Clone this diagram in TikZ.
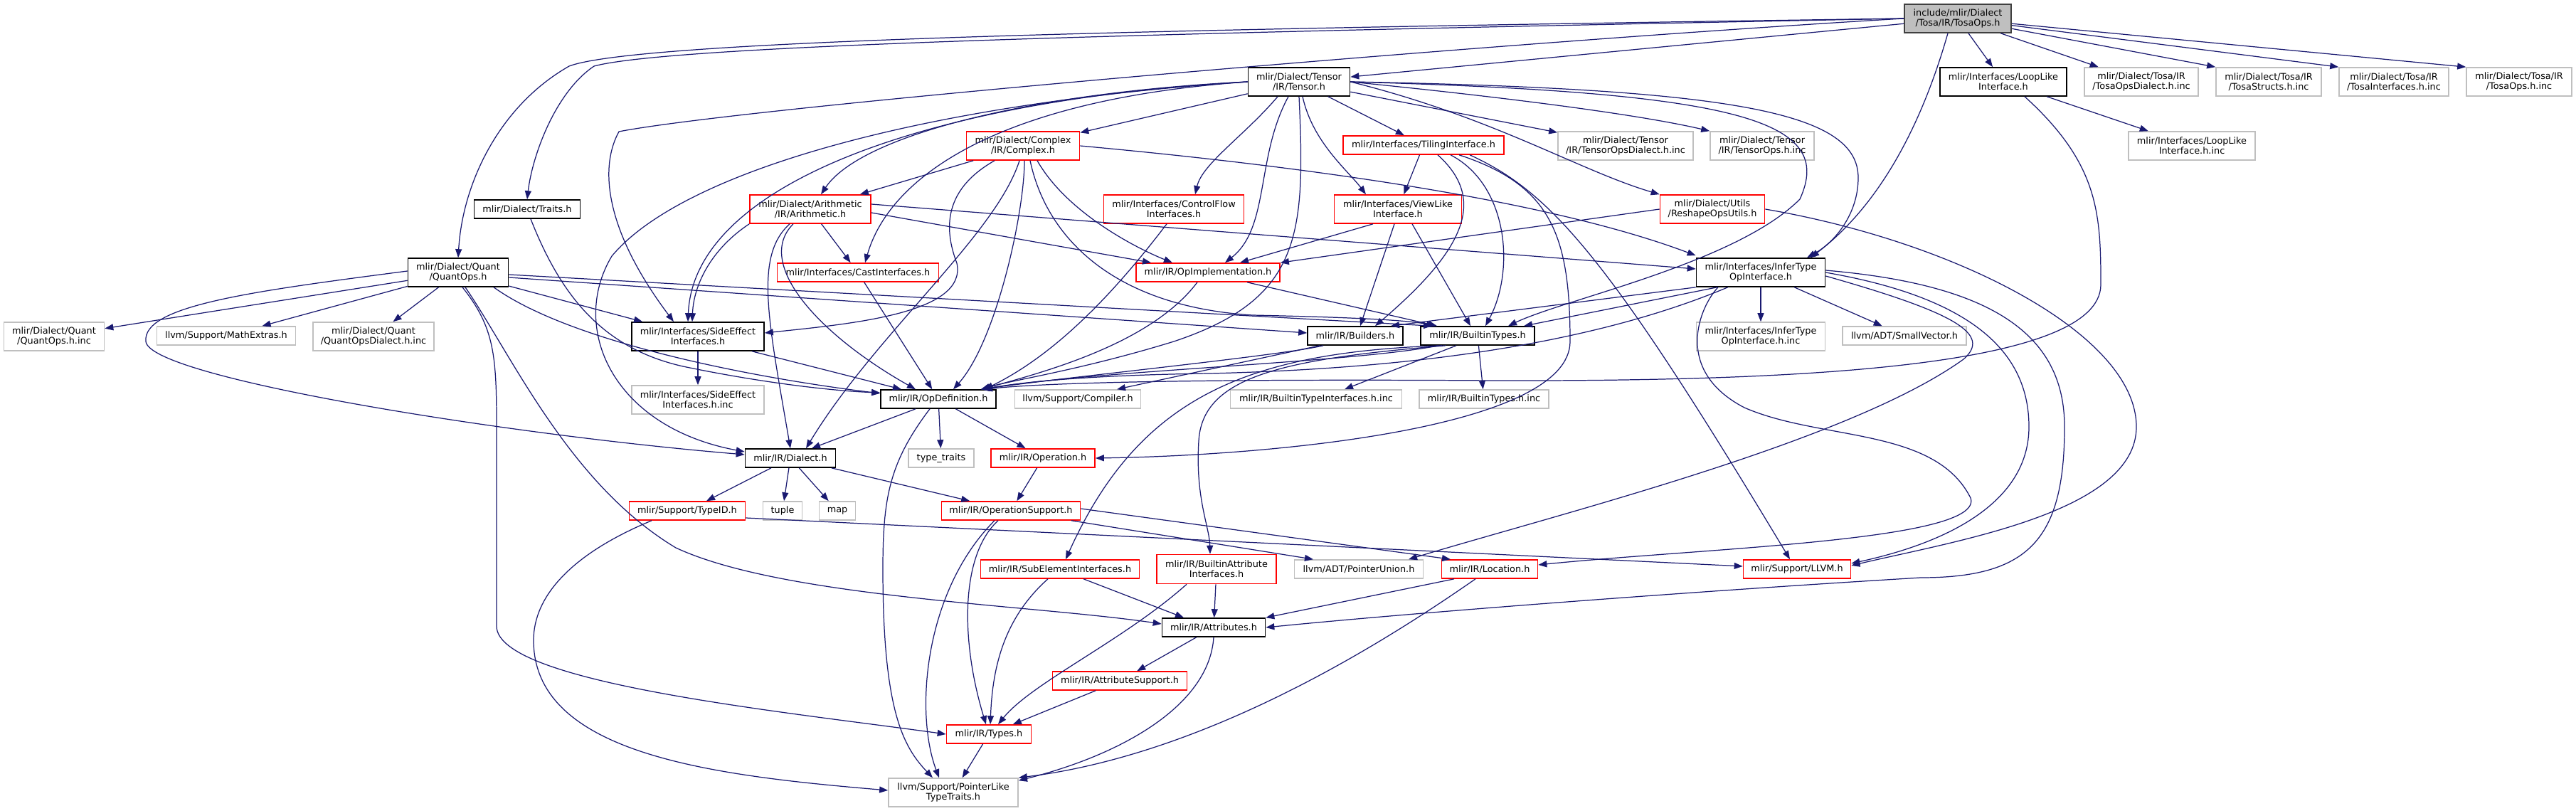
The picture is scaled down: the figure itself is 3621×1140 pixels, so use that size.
\documentclass[tikz,border=0pt]{standalone}
\usepackage{fontspec}
\setmainfont{DejaVu Sans}
\usepackage{xcolor}
\usepackage{tikz}
\usetikzlibrary{arrows.meta}

\definecolor{edgeblue}{HTML}{191970}
\definecolor{truncred}{HTML}{FF0000}
\definecolor{leafgray}{HTML}{BFBFBF}
\definecolor{rootfill}{HTML}{BFBFBF}

\begin{document}
\begin{tikzpicture}[
  x=0.01cm, y=-0.01cm,
  file/.style={rectangle, draw, inner sep=0pt, minimum height=0.26cm,
    align=center, font=\fontsize{3.65}{4.1}\selectfont, line width=0.45pt},
  tall/.style={minimum height=0.40cm},
  hdr/.style={file, draw=black, fill=white},
  cut/.style={file, draw=truncred, fill=white},
  leaf/.style={file, draw=leafgray, fill=white},
  root/.style={file, draw=black!75, fill=rootfill},
  dep/.style={draw=edgeblue, line width=0.35pt,
    -{Triangle[length=0.12cm,width=0.09cm]}}
]
\useasboundingbox (0,0) rectangle (3621,1140);

% top row
\node[root, tall, minimum width=1.50cm] (tosa) at (2752,26) {include/mlir/Dialect\\/Tosa/IR/TosaOps.h};
\node[hdr, tall, minimum width=1.43cm] (tensor) at (1826,115) {mlir/Dialect/Tensor\\/IR/Tensor.h};
\node[hdr, tall, minimum width=1.78cm] (looplike) at (2816,115) {mlir/Interfaces/LoopLike\\Interface.h};
\node[leaf, tall, minimum width=1.60cm] (tosadialinc) at (3010,115) {mlir/Dialect/Tosa/IR\\/TosaOpsDialect.h.inc};
\node[leaf, tall, minimum width=1.48cm] (tosastructinc) at (3189,115) {mlir/Dialect/Tosa/IR\\/TosaStructs.h.inc};
\node[leaf, tall, minimum width=1.54cm] (tosaifaceinc) at (3365,115) {mlir/Dialect/Tosa/IR\\/TosaInterfaces.h.inc};
\node[leaf, tall, minimum width=1.48cm] (tosaopsinc) at (3541,115) {mlir/Dialect/Tosa/IR\\/TosaOps.h.inc};

% second and third rows
\node[cut, tall, minimum width=1.59cm] (complex) at (1438,205) {mlir/Dialect/Complex\\/IR/Complex.h};
\node[cut, minimum width=2.26cm] (tiling) at (2001,204) {mlir/Interfaces/TilingInterface.h};
\node[leaf, tall, minimum width=1.90cm] (tensordialinc) at (2285,205) {mlir/Dialect/Tensor\\/IR/TensorOpsDialect.h.inc};
\node[leaf, tall, minimum width=1.46cm] (tensoropsinc) at (2477,205) {mlir/Dialect/Tensor\\/IR/TensorOps.h.inc};
\node[leaf, tall, minimum width=1.78cm] (looplikeinc) at (3081,205) {mlir/Interfaces/LoopLike\\Interface.h.inc};
\node[hdr, minimum width=1.49cm] (traits) at (741,294) {mlir/Dialect/Traits.h};
\node[cut, tall, minimum width=1.70cm] (arith) at (1139,294) {mlir/Dialect/Arithmetic\\/IR/Arithmetic.h};
\node[cut, tall, minimum width=1.97cm] (controlflow) at (1650,294) {mlir/Interfaces/ControlFlow\\Interfaces.h};
\node[cut, tall, minimum width=1.79cm] (viewlike) at (1965,294) {mlir/Interfaces/ViewLike\\Interface.h};
\node[cut, tall, minimum width=1.47cm] (reshape) at (2407,294) {mlir/Dialect/Utils\\/ReshapeOpsUtils.h};

% fourth row
\node[hdr, tall, minimum width=1.41cm] (quantops) at (644,383) {mlir/Dialect/Quant\\/QuantOps.h};
\node[cut, minimum width=2.27cm] (cast) at (1206,383) {mlir/Interfaces/CastInterfaces.h};
\node[cut, minimum width=2.02cm] (opimpl) at (1698,383) {mlir/IR/OpImplementation.h};
\node[hdr, tall, minimum width=1.81cm] (infertype) at (2475,383) {mlir/Interfaces/InferType\\OpInterface.h};

% fifth row
\node[leaf, tall, minimum width=1.41cm] (quantinc) at (76,473) {mlir/Dialect/Quant\\/QuantOps.h.inc};
\node[leaf, minimum width=1.95cm] (mathextras) at (318,472) {llvm/Support/MathExtras.h};
\node[leaf, tall, minimum width=1.70cm] (quantdialinc) at (525,473) {mlir/Dialect/Quant\\/QuantOpsDialect.h.inc};
\node[hdr, tall, minimum width=1.86cm] (sideeffect) at (981,473) {mlir/Interfaces/SideEffect\\Interfaces.h};
\node[hdr, minimum width=1.34cm] (builders) at (1905,472) {mlir/IR/Builders.h};
\node[hdr, minimum width=1.60cm] (builtintypes) at (2077,472) {mlir/IR/BuiltinTypes.h};
\node[leaf, tall, minimum width=1.81cm] (inferinc) at (2475,473) {mlir/Interfaces/InferType\\OpInterface.h.inc};
\node[leaf, minimum width=1.74cm] (smallvec) at (2677,472) {llvm/ADT/SmallVector.h};

% sixth row
\node[leaf, tall, minimum width=1.86cm] (sideeffectinc) at (981,562) {mlir/Interfaces/SideEffect\\Interfaces.h.inc};
\node[hdr, minimum width=1.62cm] (opdef) at (1319,561) {mlir/IR/OpDefinition.h};
\node[leaf, minimum width=1.77cm] (compiler) at (1515,561) {llvm/Support/Compiler.h};
\node[leaf, minimum width=2.41cm] (btiinc) at (1850,561) {mlir/IR/BuiltinTypeInterfaces.h.inc};
\node[leaf, minimum width=1.82cm] (btinc) at (2086,561) {mlir/IR/BuiltinTypes.h.inc};

% lower rows
\node[hdr, minimum width=1.27cm] (dialect) at (1111,644) {mlir/IR/Dialect.h};
\node[leaf, minimum width=0.92cm] (typetraits) at (1323,644) {type\_traits};
\node[cut, minimum width=1.46cm] (operation) at (1466,644) {mlir/IR/Operation.h};
\node[cut, minimum width=1.63cm] (typeid) at (966,718) {mlir/Support/TypeID.h};
\node[leaf, minimum width=0.55cm] (tuple) at (1100,718) {tuple};
\node[leaf, minimum width=0.51cm] (map) at (1177,718) {map};
\node[cut, minimum width=1.95cm] (opsupport) at (1421,718) {mlir/IR/OperationSupport.h};
\node[cut, minimum width=2.23cm] (subelem) at (1490,800) {mlir/IR/SubElementInterfaces.h};
\node[cut, minimum height=0.41cm, minimum width=1.68cm] (battriface) at (1710,800) {mlir/IR/BuiltinAttribute\\Interfaces.h};
\node[leaf, minimum width=1.81cm] (ptrunion) at (1910,800) {llvm/ADT/PointerUnion.h};
\node[cut, minimum width=1.35cm] (location) at (2094,800) {mlir/IR/Location.h};
\node[cut, minimum width=1.51cm] (llvm) at (2526,800) {mlir/Support/LLVM.h};
\node[hdr, minimum width=1.45cm] (attributes) at (1706,882) {mlir/IR/Attributes.h};
\node[cut, minimum width=1.89cm] (attrsupport) at (1574,957) {mlir/IR/AttributeSupport.h};
\node[cut, minimum width=1.19cm] (types) at (1390,1032) {mlir/IR/Types.h};
\node[leaf, tall, minimum width=1.82cm] (ptrlike) at (1340,1114) {llvm/Support/PointerLike\\TypeTraits.h};

% includes of TosaOps.h
\draw[dep] (tosa.west) .. controls (1700,40) and (900,55) .. (800,93) .. controls (700,150) and (650,260) .. (quantops.north);
\draw[dep] (tosa.west) .. controls (1700,45) and (950,62) .. (835,93) .. controls (780,130) and (748,220) .. (traits.north);
\draw[dep] (tosa.west) .. controls (2100,60) and (1050,150) .. (870,185) .. controls (840,240) and (855,330) .. ([xshift=-0.34cm]sideeffect.north);
\draw[dep] (tosa) -- (tensor);
\draw[dep] (tosa) -- (looplike);
\draw[dep] (tosa) -- (tosadialinc);
\draw[dep] (tosa) -- (tosastructinc.north west);
\draw[dep] (tosa) -- (tosaifaceinc.north west);
\draw[dep] (tosa) -- (tosaopsinc.north west);
\draw[dep] ([xshift=-0.14cm]tosa.south) .. controls (2700,180) and (2640,290) .. ([xshift=0.7cm]infertype.north);

% includes of Tensor.h
\draw[dep] (tensor) -- (complex);
\draw[dep] (tensor.west) .. controls (1450,130) and (1210,190) .. ([xshift=0.15cm]arith.north);
\draw[dep] (tensor.west) .. controls (1400,140) and (1250,250) .. ([xshift=0.1cm]cast.north);
\draw[dep] ([xshift=-0.3cm]tensor.south) .. controls (1750,190) and (1690,230) .. ([xshift=0.3cm]controlflow.north);
\draw[dep] ([xshift=-0.15cm]tensor.south) .. controls (1765,220) and (1785,320) .. ([xshift=0.24cm]opimpl.north);
\draw[dep] (tensor.south) .. controls (1835,330) and (1830,420) .. (1650,480) .. controls (1520,520) and (1420,535) .. ([xshift=0.6cm]opdef.north);
\draw[dep] ([xshift=0.05cm]tensor.south) .. controls (1845,200) and (1895,240) .. ([xshift=-0.45cm]viewlike.north);
\draw[dep] (tensor) -- (tiling);
\draw[dep] (tensor) -- (tensordialinc);
\draw[dep] (tensor.east) .. controls (2100,135) and (2300,160) .. (tensoropsinc.north west);
\draw[dep] (tensor.east) .. controls (2100,165) and (2220,240) .. (reshape.north west);
\draw[dep] (tensor.east) .. controls (2450,125) and (2612,160) .. (2612,250) .. controls (2612,300) and (2580,340) .. ([xshift=0.65cm]infertype.north);
\draw[dep] (tensor.east) .. controls (2450,130) and (2580,170) .. (2530,280) .. controls (2440,370) and (2200,420) .. ([xshift=0.43cm]builtintypes.north);
\draw[dep] (tensor.west) .. controls (1300,145) and (960,240) .. (860,360) .. controls (800,460) and (860,600) .. ([yshift=0.09cm]dialect.west);
\draw[dep] (tensor.west) .. controls (1300,140) and (975,260) .. ([xshift=-0.14cm]sideeffect.north);

% includes of Complex.h
\draw[dep] (complex) -- (arith);
\draw[dep] ([xshift=-0.4cm]complex.south) .. controls (1320,270) and (1330,330) .. (1345,370) .. controls (1360,440) and (1200,455) .. ([yshift=0.05cm]sideeffect.east);
\draw[dep] ([xshift=0.02cm]complex.south) .. controls (1440,300) and (1400,480) .. ([xshift=0.21cm]opdef.north);
\draw[dep] ([xshift=-0.05cm]complex.south) .. controls (1400,330) and (1230,470) .. ([xshift=0.22cm]dialect.north);
\draw[dep] ([xshift=0.2cm]complex.south) .. controls (1500,300) and (1600,350) .. ([xshift=-0.5cm]opimpl.north);
\draw[dep] ([xshift=0.1cm]complex.south) .. controls (1470,330) and (1560,430) .. (1760,443) .. controls (1900,446) and (1980,450) .. ([xshift=-0.6cm]builtintypes.north);
\draw[dep] (complex.east) .. controls (1900,240) and (2200,290) .. ([yshift=0.03cm]infertype.north west);

% includes of Arithmetic.h
\draw[dep] (arith) -- (cast);
\draw[dep] (arith.south west) .. controls (1000,350) and (975,400) .. ([xshift=-0.08cm]sideeffect.north);
\draw[dep] ([xshift=-0.29cm]arith.south) .. controls (1060,360) and (1080,450) .. (dialect.north);
\draw[dep] ([xshift=-0.24cm]arith.south) .. controls (1060,370) and (1150,470) .. ([xshift=-0.32cm]opdef.north);
\draw[dep] ([yshift=-0.05cm]arith.east) -- ([xshift=-0.8cm]opimpl.north);
\draw[dep] ([yshift=0.07cm]arith.east) -- ([yshift=0.05cm]infertype.west);

% interfaces and utilities
\draw[dep] (cast) -- (opdef);
\draw[dep] ([xshift=-0.1cm]controlflow.south) .. controls (1560,420) and (1480,500) .. ([xshift=0.65cm]opdef.north);
\draw[dep] ([xshift=-0.15cm]opimpl.south) .. controls (1620,480) and (1480,520) .. ([xshift=0.6cm]opdef.north);
\draw[dep] ([xshift=0.55cm]opimpl.south) -- ([xshift=-0.57cm]builtintypes.north);
\draw[dep] (tiling) -- (viewlike);
\draw[dep] ([xshift=0.2cm]tiling.south) .. controls (2090,280) and (2060,350) .. ([xshift=0.28cm]builders.north);
\draw[dep] ([xshift=0.38cm]tiling.south) .. controls (2120,260) and (2130,380) .. ([xshift=0.11cm]builtintypes.north);
\draw[dep] ([xshift=0.5cm]tiling.south) .. controls (2180,260) and (2207,330) .. (2207,480) .. controls (2207,600) and (1800,640) .. (operation.east);
\draw[dep] ([xshift=0.65cm]tiling.south) .. controls (2180,270) and (2260,360) .. ([xshift=-0.1cm]llvm.north);
\draw[dep] ([xshift=-0.35cm]viewlike.south) -- ([xshift=0.45cm]opimpl.north);
\draw[dep] ([xshift=-0.05cm]viewlike.south) -- ([xshift=0.07cm]builders.north);
\draw[dep] ([xshift=0.2cm]viewlike.south) -- ([xshift=-0.1cm]builtintypes.north);
\draw[dep] (reshape.west) -- (opimpl.north east);
\draw[dep] (reshape.east) .. controls (2750,340) and (3003,470) .. (3003,600) .. controls (3003,720) and (2750,760) .. ([yshift=0.05cm]llvm.east);
\draw[dep] (infertype) -- (inferinc);
\draw[dep] (infertype) -- (smallvec);
\draw[dep] (infertype.south west) -- ([xshift=0.5cm]builders.north);
\draw[dep] ([xshift=0.3cm]infertype.south west) -- ([xshift=0.65cm]builtintypes.north);
\draw[dep] ([xshift=0.45cm]infertype.south west) .. controls (2200,500) and (1900,520) .. (1700,525) .. controls (1550,527) and (1450,535) .. ([xshift=0.62cm]opdef.north);
\draw[dep] ([yshift=0.03cm]infertype.east) .. controls (2800,400) and (2902,470) .. (2902,600) .. controls (2902,760) and (2850,812) .. (2700,812) .. controls (2400,830) and (2000,860) .. (attributes.east);
\draw[dep] (infertype.east) .. controls (2780,420) and (2852,500) .. (2852,600) .. controls (2852,700) and (2750,760) .. ([yshift=0.08cm]llvm.east);
\draw[dep] ([xshift=-0.6cm]infertype.south) .. controls (2390,430) and (2350,520) .. (2452,573) .. controls (2560,620) and (2720,600) .. (2770,700) .. controls (2790,760) and (2400,770) .. ([yshift=0.06cm]location.east);
\draw[dep] ([yshift=-0.05cm]infertype.east) .. controls (2750,440) and (2800,470) .. (2760,505) .. controls (2600,620) and (2200,720) .. ([xshift=0.7cm]ptrunion.north);
\draw[dep] (looplike) -- (looplikeinc);
\draw[dep] ([xshift=0.3cm]looplike.south) .. controls (2950,230) and (2953,300) .. (2953,400) .. controls (2953,520) and (2500,536) .. (2100,535) .. controls (1800,533) and (1500,535) .. ([xshift=0.64cm]opdef.north);

% QuantOps.h and Traits.h
\draw[dep] (quantops) -- (quantinc);
\draw[dep] (quantops) -- (mathextras);
\draw[dep] (quantops) -- (quantdialinc);
\draw[dep] (quantops) -- (sideeffect);
\draw[dep] ([yshift=-0.03cm]quantops.east) -- ([xshift=-0.64cm]builtintypes.north);
\draw[dep] ([yshift=-0.07cm]quantops.east) -- ([yshift=0.04cm]builders.west);
\draw[dep] ([xshift=0.5cm]quantops.south) .. controls (800,480) and (1050,530) .. ([yshift=0.08cm]opdef.west);
\draw[dep] ([xshift=0.05cm]traits.south) .. controls (790,420) and (850,490) .. (960,515) .. controls (1080,540) and (1180,550) .. ([yshift=0.09cm]opdef.west);
\draw[dep] ([yshift=0.02cm]quantops.west) .. controls (350,410) and (200,430) .. (205,480) .. controls (210,530) and (700,610) .. ([yshift=0.05cm]dialect.west);
\draw[dep] ([xshift=0.06cm]quantops.south) .. controls (695,460) and (698,500) .. (698,600) -- (698,880) .. controls (698,960) and (1100,1000) .. (types.west);
\draw[dep] ([xshift=0.1cm]quantops.south) .. controls (720,500) and (800,680) .. (950,770) .. controls (1100,840) and (1450,850) .. ([yshift=0.05cm]attributes.west);
\draw[dep] (sideeffect) -- (sideeffectinc);
\draw[dep] ([xshift=0.76cm]sideeffect.south) -- ([xshift=-0.52cm]opdef.north);

% Builders.h and BuiltinTypes.h
\draw[dep] ([xshift=-0.45cm]builders.south) .. controls (1800,500) and (1500,530) .. ([xshift=0.6cm]opdef.north);
\draw[dep] ([xshift=-0.5cm]builders.south) -- ([xshift=0.55cm]compiler.north);
\draw[dep] ([xshift=-0.55cm]builtintypes.south) .. controls (1900,510) and (1550,520) .. ([xshift=0.6cm]opdef.north);
\draw[dep] ([xshift=-0.3cm]builtintypes.south) -- ([xshift=0.4cm]btiinc.north);
\draw[dep] (builtintypes) -- (btinc);
\draw[dep] ([xshift=-0.5cm]builtintypes.south) .. controls (1750,495) and (1600,560) .. ([xshift=0.08cm]subelem.north);
\draw[dep] ([xshift=-0.45cm]builtintypes.south) .. controls (1800,505) and (1690,530) .. (1685,620) .. controls (1680,700) and (1700,740) .. ([xshift=-0.09cm]battriface.north);

% OpDefinition.h and below
\draw[dep] ([xshift=-0.32cm]opdef.south) -- ([xshift=0.3cm]dialect.north);
\draw[dep] (opdef) -- (typetraits);
\draw[dep] (opdef) -- (operation);
\draw[dep] ([xshift=-0.12cm]opdef.south) .. controls (1250,650) and (1241,700) .. (1241,800) .. controls (1241,1000) and (1270,1050) .. ([xshift=-0.29cm]ptrlike.north);
\draw[dep] (dialect) -- (typeid);
\draw[dep] (dialect) -- (tuple);
\draw[dep] (dialect) -- (map);
\draw[dep] (dialect) -- (opsupport);
\draw[dep] (operation) -- (opsupport);
\draw[dep] ([xshift=-0.18cm]opsupport.south) .. controls (1350,780) and (1350,900) .. ([xshift=-0.04cm]types.north);
\draw[dep] ([xshift=-0.23cm]opsupport.south) .. controls (1300,830) and (1285,1000) .. ([xshift=-0.2cm]ptrlike.north);
\draw[dep] ([xshift=0.85cm]opsupport.south) -- ([xshift=-0.64cm]ptrunion.north);
\draw[dep] ([yshift=0.03cm]opsupport.east) -- ([xshift=-0.55cm]location.north);
\draw[dep] ([yshift=-0.1cm]typeid.east) -- ([yshift=0.04cm]llvm.west);
\draw[dep] ([xshift=-0.5cm]typeid.south) .. controls (800,780) and (750,840) .. (750,900) .. controls (750,1060) and (1000,1090) .. ([yshift=0.03cm]ptrlike.west);
\draw[dep] ([xshift=0.33cm]subelem.south) -- ([xshift=-0.42cm]attributes.north);
\draw[dep] ([xshift=-0.17cm]subelem.south) .. controls (1410,870) and (1395,940) .. ([xshift=0.02cm]types.north);
\draw[dep] (battriface) -- (attributes);
\draw[dep] ([xshift=-0.42cm]battriface.south) .. controls (1580,900) and (1450,960) .. ([xshift=0.13cm]types.north);
\draw[dep] ([xshift=-0.5cm]location.south) -- (attributes.north east);
\draw[dep] ([xshift=-0.2cm]location.south) .. controls (1950,900) and (1700,1060) .. (ptrlike.north east);
\draw[dep] (attributes) -- (attrsupport);
\draw[dep] (attributes.south) .. controls (1700,990) and (1580,1060) .. ([yshift=-0.04cm]ptrlike.north east);
\draw[dep] (attrsupport) -- (types);
\draw[dep] (types) -- (ptrlike);

\end{tikzpicture}
\end{document}
